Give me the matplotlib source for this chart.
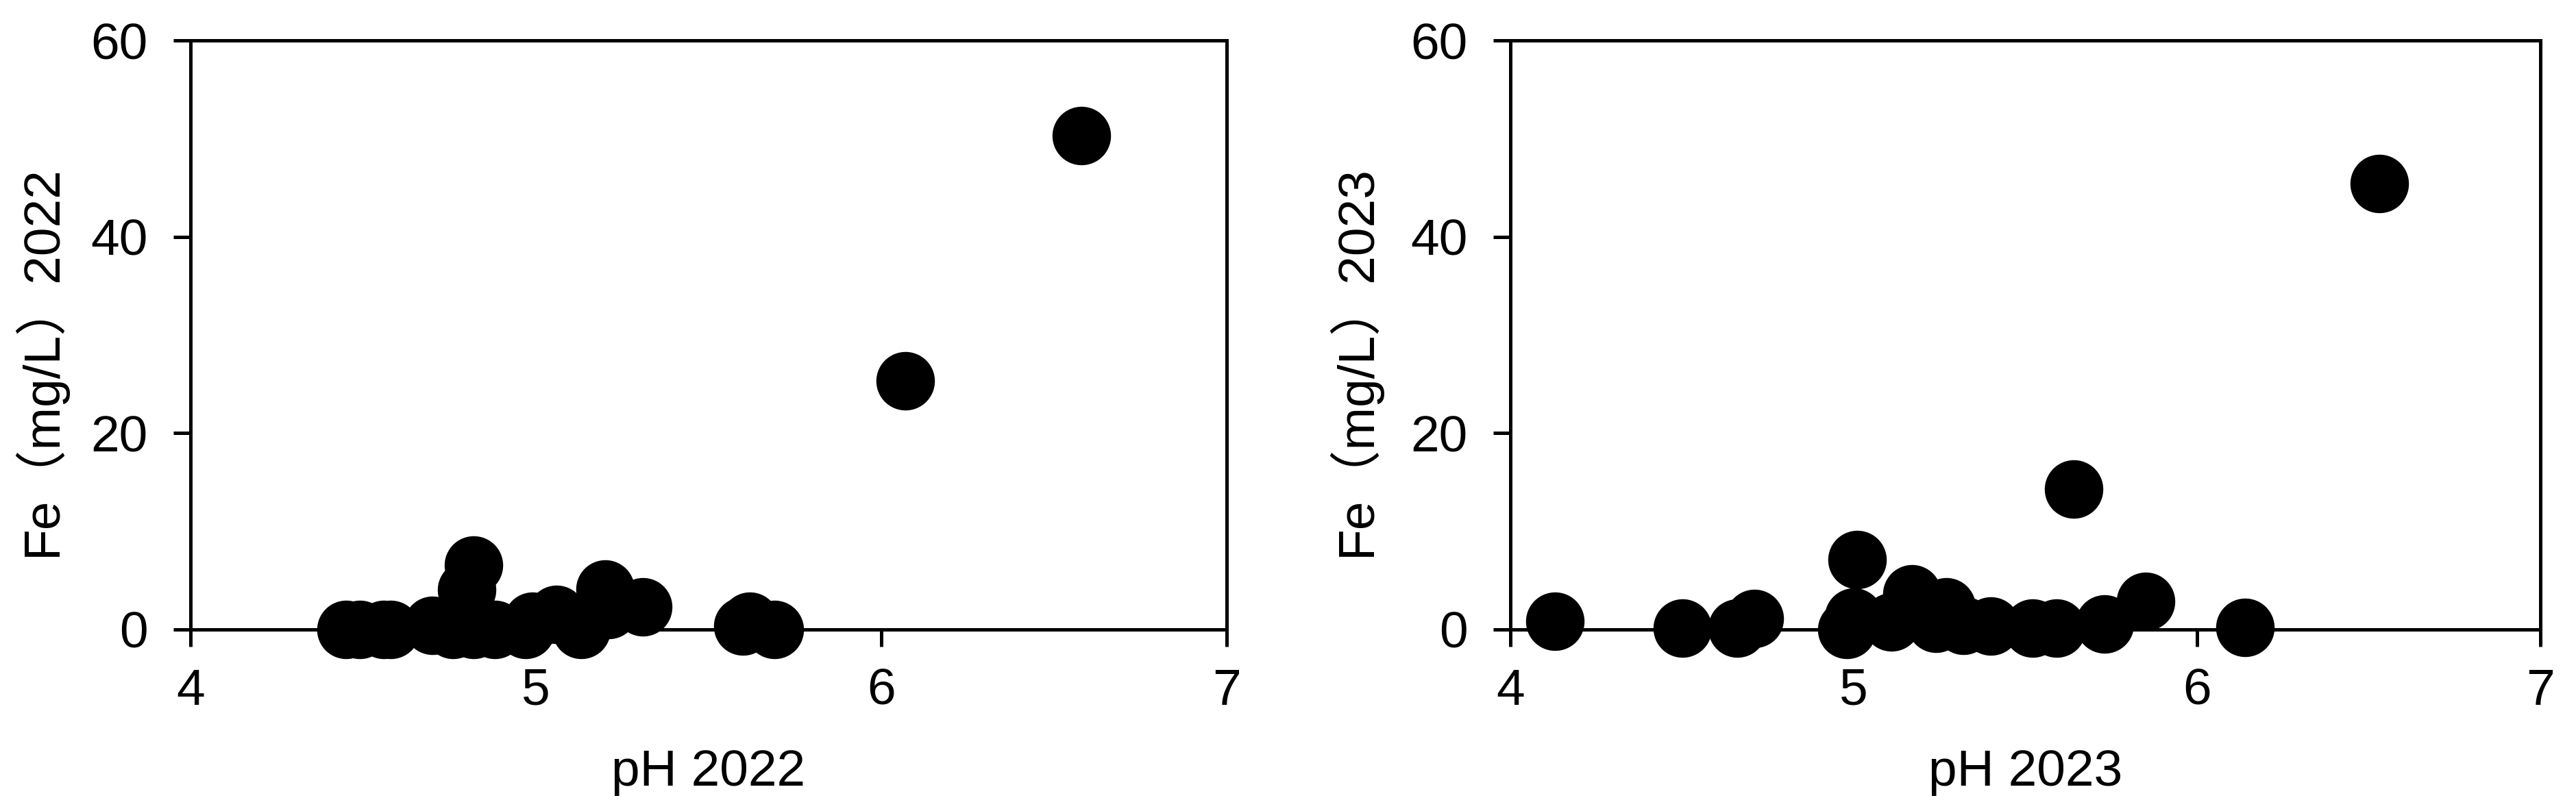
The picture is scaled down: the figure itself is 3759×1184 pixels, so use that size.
import matplotlib
matplotlib.use("Agg")
import matplotlib.pyplot as plt

# pH vs Fe (mg/L)
ph_2022 = [4.45, 4.49, 4.56, 4.58, 4.70, 4.76, 4.82, 4.80, 4.82, 4.88, 4.97,
           4.99, 5.06, 5.13, 5.20, 5.21, 5.31, 5.60, 5.62, 5.69, 6.07, 6.58]
fe_2022 = [0.0, 0.0, 0.0, 0.0, 0.4, 0.0, 0.0, 4.0, 6.5, 0.0, 0.0,
           0.8, 1.5, 0.0, 4.1, 2.0, 2.3, 0.3, 0.8, 0.0, 25.3, 50.3]

ph_2023 = [4.13, 4.50, 4.66, 4.71, 4.98, 5.00, 5.01, 5.11, 5.17, 5.24, 5.27,
           5.32, 5.40, 5.52, 5.59, 5.64, 5.73, 5.85, 6.14, 6.53]
fe_2023 = [0.8, 0.1, 0.1, 1.1, 0.0, 1.2, 7.1, 0.7, 3.6, 0.6, 2.3,
           0.4, 0.3, 0.1, 0.1, 14.3, 0.5, 2.8, 0.2, 45.4]

xticks = [4, 5, 6, 7]
yticks = [0, 20, 40, 60]
xlabels = ["pH 2022", "pH 2023"]
ylabels = ["Fe\uff08mg/L\uff092022", "Fe\uff08mg/L\uff092023"]

FONT = ["Liberation Sans", "Noto Sans CJK JP", "DejaVu Sans"]
plt.rcParams["font.family"] = FONT

W, H = 3759, 1184
fig = plt.figure(figsize=(W / 300, H / 300), dpi=300)

y0 = 1 - 918.5 / H
hgt = (918.5 - 59.3) / H
ax1 = fig.add_axes([278 / W, y0, 1512 / W, hgt])
ax2 = fig.add_axes([2204 / W, y0, 1503 / W, hgt])

panels = [(ax1, ph_2022, fe_2022, -0.120), (ax2, ph_2023, fe_2023, -0.126)]
for i, (ax, xs, ys, ylx) in enumerate(panels):
    ax.plot(xs, ys, "o", color="black", markersize=20.5, markeredgewidth=0,
            clip_on=False, zorder=3)
    ax.set_xlim(4, 7)
    ax.set_ylim(0, 60)
    ax.set_xticks(xticks)
    ax.set_yticks(yticks)
    for sp in ax.spines.values():
        sp.set_linewidth(1.2)
        sp.set_color("black")
    ax.tick_params(direction="out", length=6, width=1.2, labelsize=18,
                   top=False, right=False)
    ax.tick_params(axis="y", pad=9)
    ax.tick_params(axis="x", pad=7.5)
    ax.set_xlabel(xlabels[i], fontsize=18)
    ax.set_ylabel(ylabels[i], fontsize=18)
    ax.xaxis.set_label_coords(0.5, -0.203)
    ax.yaxis.set_label_coords(ylx, 0.456)

fig.savefig("out.png", dpi=300)
